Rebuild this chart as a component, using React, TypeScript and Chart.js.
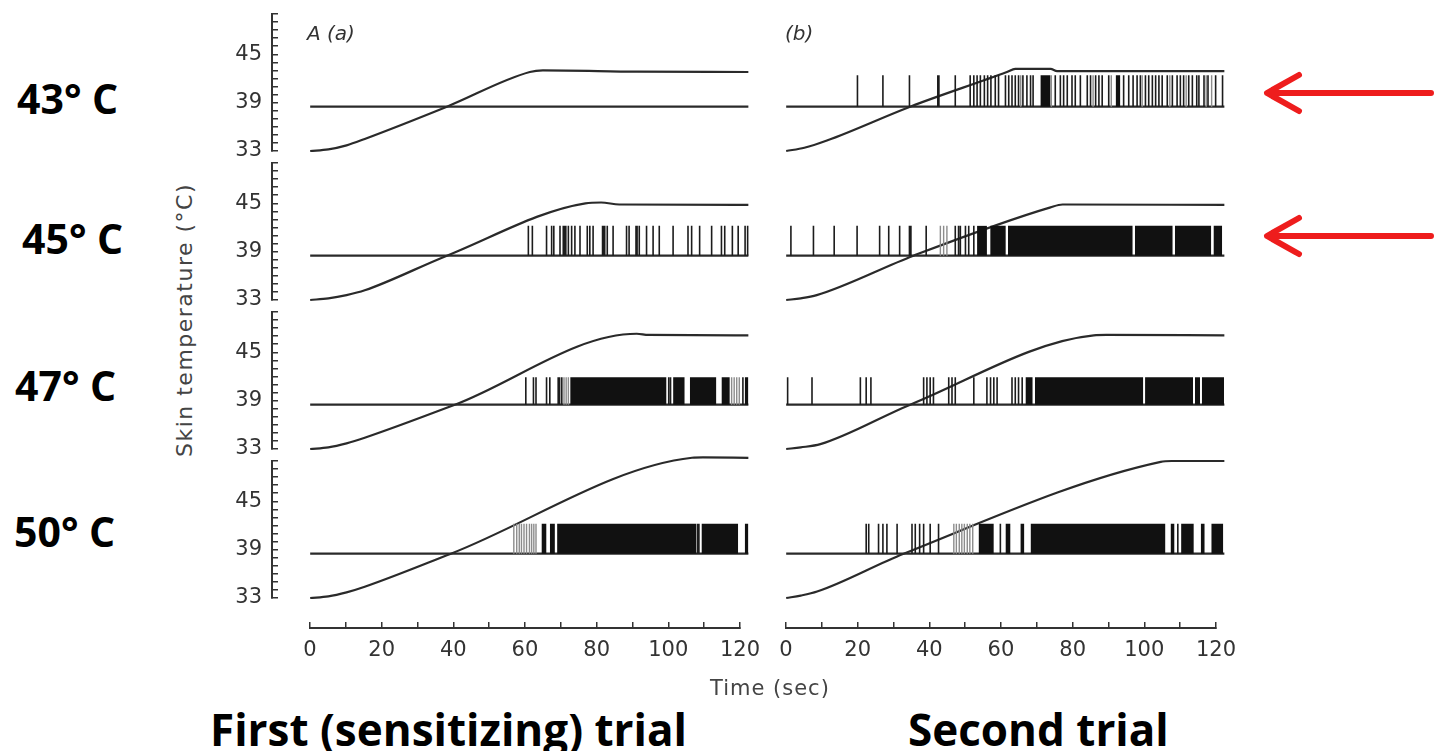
import React, { useEffect, useRef } from 'react';
import { Chart, registerables } from 'chart.js';

Chart.register(...registerables);
Chart.defaults.font.family = '"DejaVu Sans", sans-serif';

// ---------------- data ----------------
const ROW_LABELS = ['43° C', '45° C', '47° C', '50° C'];
const COLUMN_TITLES = ['First (sensitizing) trial', 'Second trial'];
const PANEL_TAGS = ['A (a)', '(b)'];
const Y_TICK_LABELS = [33, 39, 45];
const X_TICK_LABELS = [0, 20, 40, 60, 80, 100, 120];
const BASELINE_T = 38.5;
const SPIKE_TOP = [42.4, 42.2, 41.9, 42.2];

// temperature ramps [time s, temperature °C]
const RAMP_1A: [number, number][] = [[0, 33], [5, 33.2], [10, 33.7], [15, 34.5], [37.6, 38.5], [60.4, 42.8], [64, 43], [90, 42.85], [120.5, 42.8]];
const RAMP_2A: [number, number][] = [[0, 33], [5, 33.2], [10, 33.6], [15, 34.2], [37.6, 38.5], [75.7, 45], [80, 45.1], [85, 44.85], [120.5, 44.8]];
const RAMP_3A: [number, number][] = [[0, 33], [5, 33.2], [10, 33.7], [15, 34.4], [39.8, 38.5], [89.8, 47.3], [93, 47.15], [120.5, 47.1]];
const RAMP_4A: [number, number][] = [[0, 33], [5, 33.2], [10, 33.7], [15, 34.4], [38.7, 38.5], [105, 50.4], [108, 50.45], [120.5, 50.4]];
const RAMP_1B: [number, number][] = [[0, 33], [5, 33.4], [11.2, 34.3], [34.1, 38.5], [60.7, 42.8], [63, 43.2], [72.7, 43.2], [74.5, 42.9], [120.5, 42.9]];
const RAMP_2B: [number, number][] = [[0, 33], [4, 33.2], [8.4, 33.6], [35, 38.5], [72.7, 44.5], [76, 44.85], [120.5, 44.8]];
const RAMP_3B: [number, number][] = [[0, 33], [4, 33.2], [9.4, 33.6], [34.1, 38.5], [84.6, 47.1], [88, 47.15], [120.5, 47.1]];
const RAMP_4B: [number, number][] = [[0, 33], [4, 33.3], [8.5, 33.8], [32.3, 38.5], [103, 49.9], [106, 50], [120.5, 50]];

// spike times (s)
const SPIKES_1A: number[] = [];
const SPIKES_2A = [60.0, 61.1, 65.0, 66.4, 67.0, 68.7, 69.6, 70.0, 70.3, 71.0, 71.9, 72.8, 74.2, 76.2, 76.9, 77.8, 80.4, 80.7, 81.0, 81.7, 83.3, 87.0, 87.7, 89.6, 89.9, 90.5, 92.5, 94.3, 96.0, 99.8, 103.9, 104.9, 107.1, 110.4, 113.1, 114.0, 116.1, 117.7, 119.6, 120.3];
const SPIKES_3A = [59.3, 61.4, 62.1, 65.0, 65.9, 68.2, 68.6, 69.2, 98.6, 99.1, 119.0];
const SPIKES_4A = [106.5, 106.9];
const SPIKES_1B = [19.6, 26.6, 33.9, 41.7, 42.0, 46.5, 50.6, 51.6, 52.5, 53.4, 54.5, 55.4, 56.3, 57.5, 58.4, 60.3, 61.2, 62.1, 63.0, 63.9, 65.1, 66.2, 67.2, 67.9, 74.0, 75.4, 76.3, 77.3, 78.6, 79.5, 80.9, 82.8, 83.7, 85.1, 86.0, 86.9, 88.7, 92.8, 94.2, 95.4, 96.5, 97.4, 98.8, 99.7, 100.7, 101.6, 102.5, 103.4, 104.8, 106.2, 107.5, 108.4, 109.3, 110.7, 111.7, 112.9, 113.5, 114.9, 116.0, 118.1, 120.0];
const SPIKES_2B = [1.3, 7.5, 13.2, 19.5, 25.7, 28.2, 31.2, 33.9, 34.3, 38.5, 46.5, 47.4, 47.9, 49.3, 50.2, 51.6];
const SPIKES_3B = [0.4, 7.1, 20.4, 22.0, 23.3, 37.8, 38.7, 39.6, 40.5, 44.7, 45.6, 46.5, 51.6, 55.2, 56.2, 57.1, 58.0, 62.1, 63.0, 63.9, 64.9];
const SPIKES_4B = [22.0, 22.7, 25.4, 26.6, 27.7, 30.5, 34.6, 35.5, 36.7, 37.8, 39.6, 41.9, 58.9, 107.7];

// fainter (grey) spikes
const FAINT_1A: number[] = [];
const FAINT_2A: number[] = [];
const FAINT_3A = [69.8, 70.4, 71.0, 115.9, 116.6, 117.3, 118.0];
const FAINT_4A = [56.0, 56.8, 57.5, 58.1, 58.8, 59.5, 60.3, 60.9, 61.5, 62.1];
const FAINT_1B = [64.5, 72.9, 84.4, 89.4, 97.9, 105.5, 110.0, 115.5, 117.0];
const FAINT_2B = [42.4, 43.3, 44.2];
const FAINT_3B: number[] = [];
const FAINT_4B = [46.1, 46.8, 47.6, 48.3, 49.0, 49.8, 50.5, 51.3];

// dense firing (solid black) intervals [start s, end s]
const BURSTS_1A: [number, number][] = [];
const BURSTS_2A: [number, number][] = [];
const BURSTS_3A: [number, number][] = [[71.5, 98.0], [99.8, 103.0], [104.4, 111.7], [113.1, 115.4], [119.5, 120.5]];
const BURSTS_4A: [number, number][] = [[63.6, 65.0], [65.9, 67.3], [67.9, 106.2], [107.6, 117.7], [119.5, 120.5]];
const BURSTS_1B: [number, number][] = [[69.9, 72.7], [90.6, 91.9]];
const BURSTS_2B: [number, number][] = [[52.5, 55.2], [56.1, 60.4], [61.0, 95.3], [95.9, 106.3], [106.9, 116.9], [117.5, 119.9]];
const BURSTS_3B: [number, number][] = [[65.8, 67.8], [68.4, 98.2], [98.7, 111.9], [112.4, 113.8], [114.3, 120.4]];
const BURSTS_4B: [number, number][] = [[52.9, 57.1], [60.3, 61.7], [64.4, 65.5], [67.2, 104.3], [105.7, 106.8], [108.6, 112.1], [114.0, 115.1], [116.9, 120.2]];

const PANELS = [
  [
    { ramp: RAMP_1A, spikes: SPIKES_1A, faint: FAINT_1A, bursts: BURSTS_1A },
    { ramp: RAMP_2A, spikes: SPIKES_2A, faint: FAINT_2A, bursts: BURSTS_2A },
    { ramp: RAMP_3A, spikes: SPIKES_3A, faint: FAINT_3A, bursts: BURSTS_3A },
    { ramp: RAMP_4A, spikes: SPIKES_4A, faint: FAINT_4A, bursts: BURSTS_4A },
  ],
  [
    { ramp: RAMP_1B, spikes: SPIKES_1B, faint: FAINT_1B, bursts: BURSTS_1B },
    { ramp: RAMP_2B, spikes: SPIKES_2B, faint: FAINT_2B, bursts: BURSTS_2B },
    { ramp: RAMP_3B, spikes: SPIKES_3B, faint: FAINT_3B, bursts: BURSTS_3B },
    { ramp: RAMP_4B, spikes: SPIKES_4B, faint: FAINT_4B, bursts: BURSTS_4B },
  ],
];

// ---------------- layout ----------------
const AREA_TOPS = [14, 163, 312, 461];
const PAD_V = 40;
const AREA_H = 137;
const AREA_W = 480;
const YAXIS_W = 60;
const COL_AREA_LEFT = [272, 748];
const X_MIN = -10.5;
const X_MAX = 121.5;
const INK = '#2a2a2a';

function spikePoints(times: number[], base: number, top: number) {
  const pts: any[] = [];
  times.forEach((t) => {
    pts.push({ x: t, y: base }, { x: t, y: top }, { x: t, y: null });
  });
  return pts;
}

function burstPoints(bursts: [number, number][], top: number) {
  const pts: any[] = [];
  bursts.forEach(([s, e]) => {
    pts.push({ x: s, y: top }, { x: e, y: top }, { x: e, y: null });
  });
  return pts;
}

function panelConfig(col: number, row: number): any {
  const p = PANELS[col][row];
  const base = BASELINE_T;
  const top = SPIKE_TOP[row];
  const common = { pointRadius: 0, pointHoverRadius: 0, spanGaps: false, tension: 0 };
  const yScale: any = {
    type: 'linear',
    display: col === 0,
    position: 'left',
    min: 33,
    max: 50,
    ticks: {
      stepSize: 1,
      autoSkip: false,
      padding: 16,
      color: '#333',
      font: { family: '"DejaVu Sans", sans-serif', size: 21 },
      callback: (v: any) => (Y_TICK_LABELS.includes(Number(v)) ? String(v) : ''),
    },
    grid: { drawOnChartArea: false, drawTicks: true, tickLength: -6, color: '#333', lineWidth: 1.5 },
    border: { display: true, color: '#333', width: 2 },
  };
  if (col === 0) {
    yScale.afterFit = (s: any) => {
      s.width = YAXIS_W;
    };
  }
  return {
    type: 'line',
    data: {
      datasets: [
        {
          ...common,
          data: burstPoints(p.bursts, top),
          fill: { value: base },
          backgroundColor: '#111111',
          borderColor: 'rgba(0,0,0,0)',
          borderWidth: 0,
        },
        { ...common, data: spikePoints(p.faint, base, top), borderColor: '#8c8c8c', borderWidth: 1.4, fill: false },
        { ...common, data: spikePoints(p.spikes, base, top), borderColor: '#1c1c1c', borderWidth: 1.6, fill: false },
        {
          ...common,
          data: [{ x: 0, y: base }, { x: 120.5, y: base }],
          borderColor: INK,
          borderWidth: 2.2,
          fill: false,
        },
        {
          ...common,
          data: p.ramp.map(([x, y]) => ({ x, y })),
          borderColor: INK,
          borderWidth: 2.2,
          fill: false,
          cubicInterpolationMode: 'monotone',
          clip: false,
        },
      ],
    },
    options: {
      animation: false,
      responsive: true,
      maintainAspectRatio: false,
      events: [],
      layout: { padding: { top: PAD_V, bottom: PAD_V, left: 0, right: 4 } },
      plugins: { legend: { display: false }, tooltip: { enabled: false } },
      scales: {
        x: { type: 'linear', display: false, min: X_MIN, max: X_MAX },
        y: yScale,
      },
    },
  };
}

function xAxisConfig(): any {
  return {
    type: 'line',
    data: { datasets: [] },
    options: {
      animation: false,
      responsive: true,
      maintainAspectRatio: false,
      events: [],
      layout: { padding: { top: 0, bottom: 0, left: 30, right: 30 } },
      plugins: { legend: { display: false }, tooltip: { enabled: false } },
      scales: {
        x: {
          type: 'linear',
          position: 'bottom',
          min: 0,
          max: 120,
          afterFit: (s: any) => {
            s.height = 50;
          },
          ticks: {
            stepSize: 10,
            autoSkip: false,
            maxRotation: 0,
            padding: 16,
            color: '#333',
            font: { family: '"DejaVu Sans", sans-serif', size: 21 },
            callback: (v: any) => (X_TICK_LABELS.includes(Number(v)) ? String(v) : ''),
          },
          grid: { drawOnChartArea: false, drawTicks: true, tickLength: -6, color: '#333', lineWidth: 1.5 },
          border: { display: true, color: '#333', width: 2 },
        },
        y: { display: false },
      },
    },
  };
}

function ChartBox(props: { left: number; top: number; width: number; height: number; make: () => any }) {
  const ref = useRef<HTMLCanvasElement | null>(null);
  useEffect(() => {
    const chart = new Chart(ref.current as HTMLCanvasElement, props.make());
    return () => chart.destroy();
  }, []);
  return (
    <div style={{ position: 'absolute', left: props.left, top: props.top, width: props.width, height: props.height }}>
      <canvas ref={ref} />
    </div>
  );
}

const bigFont: React.CSSProperties = {
  position: 'absolute',
  fontFamily: '"Open Sans", sans-serif',
  fontWeight: 700,
  color: '#000',
  whiteSpace: 'nowrap',
  lineHeight: 1,
};

const smallFont: React.CSSProperties = {
  position: 'absolute',
  fontFamily: '"DejaVu Sans", sans-serif',
  color: '#333',
  whiteSpace: 'nowrap',
  lineHeight: 1,
};

const ROW_LABEL_POS = [
  { left: 17, top: 78 },
  { left: 22, top: 218 },
  { left: 15, top: 365 },
  { left: 14, top: 511 },
];

export default function App() {
  const charts: React.ReactNode[] = [];
  for (let col = 0; col < 2; col++) {
    for (let row = 0; row < 4; row++) {
      const left = col === 0 ? COL_AREA_LEFT[0] - YAXIS_W : COL_AREA_LEFT[1];
      const width = (col === 0 ? YAXIS_W : 0) + AREA_W + 4;
      charts.push(
        <ChartBox
          key={`p${col}${row}`}
          left={left}
          top={AREA_TOPS[row] - PAD_V}
          width={width}
          height={AREA_H + 2 * PAD_V}
          make={() => panelConfig(col, row)}
        />
      );
    }
  }
  return (
    <div style={{ position: 'absolute', left: 0, top: 0, width: 1434, height: 751, background: '#fff', overflow: 'hidden' }}>
      {charts}
      <ChartBox left={280} top={600} width={496} height={78} make={xAxisConfig} />
      <ChartBox left={756} top={600} width={496} height={78} make={xAxisConfig} />

      {ROW_LABELS.map((t, i) => (
        <div key={t} style={{ ...bigFont, fontSize: 41, left: ROW_LABEL_POS[i].left, top: ROW_LABEL_POS[i].top }}>
          {t}
        </div>
      ))}
      <div style={{ ...bigFont, fontSize: 44, left: 210, top: 707 }}>{COLUMN_TITLES[0]}</div>
      <div style={{ ...bigFont, fontSize: 44, left: 908, top: 707 }}>{COLUMN_TITLES[1]}</div>

      <div style={{ ...smallFont, fontSize: 20, fontStyle: 'italic', left: 307, top: 23 }}>{PANEL_TAGS[0]}</div>
      <div style={{ ...smallFont, fontSize: 20, fontStyle: 'italic', left: 785, top: 23 }}>{PANEL_TAGS[1]}</div>

      <div
        style={{
          ...smallFont,
          fontSize: 22,
          letterSpacing: 1.5,
          left: 185,
          top: 320,
          transform: 'translate(-50%, -50%) rotate(-90deg)',
          color: '#444',
        }}
      >
        Skin temperature (°C)
      </div>
      <div style={{ ...smallFont, fontSize: 21, letterSpacing: 1, left: 710, top: 678, color: '#444' }}>Time (sec)</div>

      <svg
        width={1434}
        height={751}
        style={{ position: 'absolute', left: 0, top: 0, pointerEvents: 'none' }}
      >
        <g stroke="#ee1d1d" strokeWidth={6} fill="none" strokeLinecap="round" strokeLinejoin="round">
          <path d="M1431 93 H1268 M1299 75 L1267 93 L1299 111" />
          <path d="M1431 236 H1268 M1299 218 L1267 236 L1299 254" />
        </g>
      </svg>
    </div>
  );
}
